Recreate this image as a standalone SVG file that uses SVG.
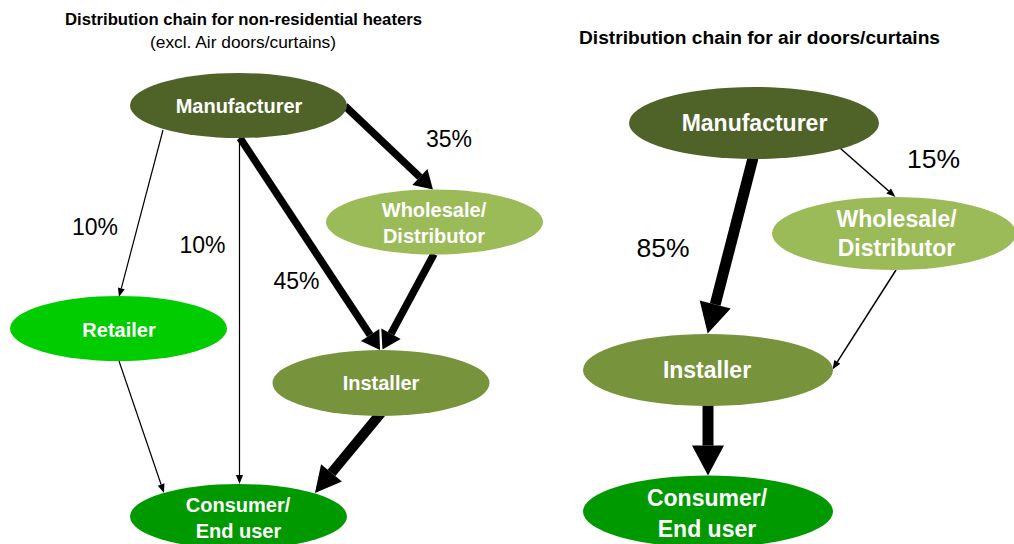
<svg xmlns="http://www.w3.org/2000/svg" width="1014" height="544" viewBox="0 0 1014 544">
<style>
  .title{font-family:"Liberation Sans",Arial,sans-serif;font-weight:bold;fill:#000;text-anchor:middle}
  .sub{font-family:"Liberation Sans",Arial,sans-serif;fill:#000;text-anchor:middle}
  .lbl{font-family:"Liberation Sans",Arial,sans-serif;fill:#000;text-anchor:middle}
  .nt{font-family:"Liberation Sans",Arial,sans-serif;font-weight:bold;fill:#fff;text-anchor:middle}
  .s{font-size:20px}
  .l{font-size:23px}
  .line{fill:none;stroke:#000}
</style>
<defs>
  <marker id="hThin" markerUnits="userSpaceOnUse" markerWidth="12" markerHeight="10" refX="0" refY="4" orient="auto" overflow="visible">
    <path d="M0,0.5 L9,4 L0,7.5 z" fill="#000"/>
  </marker>
  <marker id="hMid" markerUnits="userSpaceOnUse" markerWidth="20" markerHeight="24" refX="0" refY="11" orient="auto" overflow="visible">
    <path d="M0,0 L18,11 L0,22 z" fill="#000"/>
  </marker>
  <marker id="hBig1" markerUnits="userSpaceOnUse" markerWidth="28" markerHeight="30" refX="0" refY="13.5" orient="auto" overflow="visible">
    <path d="M0,0 L26,13.5 L0,27 z" fill="#000"/>
  </marker>
  <marker id="hBig2" markerUnits="userSpaceOnUse" markerWidth="32" markerHeight="34" refX="0" refY="16" orient="auto" overflow="visible">
    <path d="M0,0 L30,16 L0,32 z" fill="#000"/>
  </marker>
</defs>
<rect width="1014" height="544" fill="#fff"/>

<g id="titles">
  <text class="title" x="243.5" y="25" font-size="16" textLength="357" lengthAdjust="spacingAndGlyphs">Distribution chain for non-residential heaters</text>
  <text class="sub" x="243" y="48" font-size="17" textLength="186" lengthAdjust="spacingAndGlyphs">(excl. Air doors/curtains)</text>
  <text class="title" x="759.5" y="44" font-size="17.5" textLength="361" lengthAdjust="spacingAndGlyphs">Distribution chain for air doors/curtains</text>
</g>

<g id="connectors">
  <!-- left diagram -->
  <path class="line" stroke-width="1.2" d="M163,130 L121.3,288.3" marker-end="url(#hThin)"/>
  <path class="line" stroke-width="1.2" d="M239.5,138 L239.5,475" marker-end="url(#hThin)"/>
  <path class="line" stroke-width="7.5" d="M240,138 L370.1,335" marker-end="url(#hMid)"/>
  <path class="line" stroke-width="7.5" d="M345,106 L419.9,177.1" marker-end="url(#hMid)"/>
  <path class="line" stroke-width="7.5" d="M434,254 L391,333.7" marker-end="url(#hMid)"/>
  <path class="line" stroke-width="10" d="M381,413 L331.5,472.9" marker-end="url(#hBig1)"/>
  <path class="line" stroke-width="1.2" d="M119,361 L161.1,484.5" marker-end="url(#hThin)"/>
  <!-- right diagram -->
  <path class="line" stroke-width="11" d="M753,158 L715.2,304.5" marker-end="url(#hBig2)"/>
  <path class="line" stroke-width="1.5" d="M840,148 L888.7,191" marker-end="url(#hThin)"/>
  <path class="line" stroke-width="1.5" d="M896,270 L837.3,361.9" marker-end="url(#hThin)"/>
  <path class="line" stroke-width="11" d="M708,405 L708,445.5" marker-end="url(#hBig2)"/>
</g>

<g id="labels">
  <text class="lbl" x="95" y="235" font-size="23">10%</text>
  <text class="lbl" x="202.5" y="253" font-size="23">10%</text>
  <text class="lbl" x="296.5" y="289" font-size="23">45%</text>
  <text class="lbl" x="449" y="147" font-size="23">35%</text>
  <text class="lbl" x="933.5" y="168" font-size="26.5">15%</text>
  <text class="lbl" x="663" y="257" font-size="26.5">85%</text>
</g>

<g id="L-manufacturer">
  <ellipse cx="238.5" cy="105.5" rx="108.5" ry="32.5" fill="#4F6228"/>
  <text class="nt s" x="239" y="113">Manufacturer</text>
</g>
<g id="L-wholesale">
  <ellipse cx="434.5" cy="222" rx="108.5" ry="32.5" fill="#9BBB59"/>
  <text class="nt s" x="434" y="216.5">Wholesale/</text>
  <text class="nt s" x="434" y="242.5">Distributor</text>
</g>
<g id="L-retailer">
  <ellipse cx="118.5" cy="328.5" rx="108.5" ry="32.5" fill="#00CC00"/>
  <text class="nt s" x="119" y="337">Retailer</text>
</g>
<g id="L-installer">
  <ellipse cx="381" cy="383" rx="108.5" ry="33" fill="#77933C"/>
  <text class="nt s" x="381" y="389.5">Installer</text>
</g>
<g id="L-consumer">
  <ellipse cx="238.5" cy="516.5" rx="108.5" ry="32.5" fill="#009900"/>
  <text class="nt s" x="238" y="511.5">Consumer/</text>
  <text class="nt s" x="238.5" y="537.5">End user</text>
</g>

<g id="R-manufacturer">
  <ellipse cx="754" cy="123" rx="125" ry="36" fill="#4F6228"/>
  <text class="nt l" x="754.5" y="131">Manufacturer</text>
</g>
<g id="R-wholesale">
  <ellipse cx="894" cy="233.5" rx="122" ry="36.5" fill="#9BBB59"/>
  <text class="nt l" x="896.5" y="226.5">Wholesale/</text>
  <text class="nt l" x="896.5" y="255.5">Distributor</text>
</g>
<g id="R-installer">
  <ellipse cx="708" cy="370" rx="125" ry="36" fill="#77933C"/>
  <text class="nt l" x="707" y="378">Installer</text>
</g>
<g id="R-consumer">
  <ellipse cx="708" cy="511.5" rx="125" ry="36" fill="#009900"/>
  <text class="nt l" x="707" y="506">Consumer/</text>
  <text class="nt l" x="707" y="537">End user</text>
</g>
</svg>
